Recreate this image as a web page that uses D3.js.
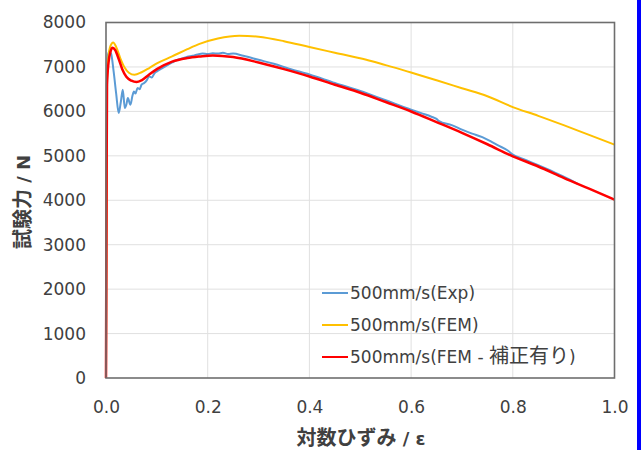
<!DOCTYPE html>
<html><head><meta charset="utf-8">
<script src="https://cdn.jsdelivr.net/npm/d3@7"></script>
<style>
body{margin:0;background:#fff;}
svg{display:block;}
text{font-family:"DejaVu Sans","Noto Sans CJK JP",sans-serif;fill:#404040;}
.cjk{font-family:"Noto Sans CJK JP",sans-serif;}
</style></head>
<body>
<svg id="c" width="641" height="450"></svg>
<script>
const xTicks = [0, 0.2, 0.4, 0.6, 0.8, 1.0];
const yTicks = [0, 1000, 2000, 3000, 4000, 5000, 6000, 7000, 8000];
const seriesNames = [["500mm/s(Exp)"], ["500mm/s(FEM)"], ["500mm/s(FEM - ", "補正有り", ")"]];
const seriesColors = ["#5b9bd5", "#ffc000", "#ff0000"];
const xTitle = ["対数ひずみ", " / ε"];
const yTitle = ["試験力", " / N"];

const strainExp = [0,0.001,0.002,0.003,0.006,0.01,0.015,0.02,0.025,0.029,0.033,0.037,0.04,0.043,0.048,0.052,0.055,0.058,0.062,0.066,0.07,0.075,0.08,0.085,0.09,0.095,0.1,0.11,0.12,0.13,0.14,0.15,0.16,0.17,0.18,0.19,0.2,0.21,0.22,0.23,0.24,0.25,0.27,0.3,0.33,0.36,0.4,0.45,0.5,0.55,0.6,0.62,0.64,0.65,0.655,0.68,0.7,0.72,0.74,0.756,0.77,0.79,0.8,0.82,0.85,0.88,0.9,0.927];
const forceExp = [0,3000,6500,7200,7350,7300,6900,6400,5962,6200,6486,6074,6150,6300,6149,6350,6448,6400,6525,6500,6600,6637,6700,6786,6760,6850,6900,6970,7034,7100,7160,7190,7230,7250,7280,7300,7290,7310,7300,7320,7290,7300,7250,7160,7070,6960,6830,6640,6460,6250,6040,5960,5880,5830,5780,5690,5590,5500,5420,5330,5240,5120,5030,4930,4790,4640,4530,4375];

const strainFem = [0,0.001,0.002,0.005,0.009,0.014,0.02,0.028,0.036,0.045,0.056,0.07,0.085,0.1,0.13,0.16,0.184,0.22,0.262,0.3,0.35,0.4,0.45,0.512,0.55,0.6,0.65,0.7,0.75,0.8,0.85,0.9,0.95,1.0];
const forceFem = [0,4000,6700,7250,7480,7552,7450,7200,7000,6870,6824,6880,6975,7080,7237,7400,7520,7640,7703,7680,7580,7448,7320,7162,7040,6876,6700,6520,6340,6097,5900,5690,5470,5252];

const strainFemCorr = [0,0.001,0.002,0.005,0.009,0.013,0.018,0.025,0.032,0.04,0.05,0.06,0.07,0.085,0.1,0.13,0.16,0.184,0.21,0.25,0.3,0.35,0.4,0.45,0.5,0.55,0.6,0.65,0.7,0.75,0.8,0.85,0.9,0.95,1.0];
const forceFemCorr = [0,4000,6600,7100,7350,7430,7380,7180,6950,6780,6690,6660,6700,6830,6950,7120,7200,7235,7260,7223,7100,6950,6786,6600,6420,6210,5998,5760,5518,5260,4989,4760,4504,4260,4016];

const isCJK = s => /[\u3040-\u30ff\u4e00-\u9fff]/.test(s);

const svg = d3.select("#c");
const L = 106, R = 614.5, T = 22.5, B = 378;
const x = d3.scaleLinear().domain([0, 1]).range([L, R]);
const y = d3.scaleLinear().domain([0, 8000]).range([B, T]);

// blue edge bar
svg.append("rect").attr("x", 637).attr("y", 0).attr("width", 4).attr("height", 450).attr("fill", "#0000ff");

// grid
svg.append("g").selectAll("line").data(yTicks.slice(1)).join("line")
  .attr("x1", L).attr("x2", R).attr("y1", d => y(d)).attr("y2", d => y(d))
  .attr("stroke", "#e0e0e0").attr("stroke-width", 1);
svg.append("g").selectAll("line").data(xTicks.slice(1)).join("line")
  .attr("y1", T).attr("y2", B).attr("x1", d => x(d)).attr("x2", d => x(d))
  .attr("stroke", "#e0e0e0").attr("stroke-width", 1);

// axes labels
const yAxis = d3.axisLeft(y).tickValues(yTicks).tickSize(0).tickPadding(20).tickFormat(d3.format("d"));
const gy = svg.append("g").attr("transform", `translate(${L},0)`).call(yAxis);
gy.select(".domain").remove();
gy.selectAll("text").attr("font-size", 17).attr("fill", "#404040").attr("font-family", null);

const xAxis = d3.axisBottom(x).tickValues(xTicks).tickSize(0).tickPadding(23).tickFormat(d3.format(".1f"));
const gx = svg.append("g").attr("transform", `translate(0,${B})`).call(xAxis);
gx.select(".domain").remove();
gx.selectAll("text").attr("font-size", 17).attr("fill", "#404040").attr("font-family", null);

// series
const line = d3.line().x(d => x(d[0])).y(d => y(d[1])).curve(d3.curveMonotoneX);
const series = [
  d3.zip(strainExp, forceExp),
  d3.zip(strainFem, forceFem),
  d3.zip(strainFemCorr, forceFemCorr)
];
const widths = [2, 2, 2.5];
series.forEach((s, i) => {
  svg.append("path").datum(s).attr("d", line).attr("fill", "none")
    .attr("stroke", seriesColors[i]).attr("stroke-width", widths[i]).attr("stroke-linejoin", "round");
});

// frame
svg.append("rect").attr("x", L).attr("y", T).attr("width", R - L).attr("height", B - T)
  .attr("fill", "none").attr("stroke", "#6e6e6e").attr("stroke-width", 1.6);

function addParts(t, parts, latinSize, cjkSize) {
  parts.forEach(p => {
    const ts = t.append("tspan").text(p);
    if (isCJK(p)) ts.attr("class", "cjk").attr("font-size", cjkSize);
    else ts.attr("font-size", latinSize);
  });
}

// legend
const lg = svg.append("g");
seriesNames.forEach((n, i) => {
  const yy = 293 + i * 32;
  lg.append("line").attr("x1", 322).attr("x2", 348).attr("y1", yy).attr("y2", yy)
    .attr("stroke", seriesColors[i]).attr("stroke-width", 2);
  const t = lg.append("text").attr("x", 350).attr("y", yy + 6).attr("fill", "#404040");
  addParts(t, n, 17, 20);
});

// axis titles
const tx = svg.append("text").attr("x", 361).attr("y", 445).attr("text-anchor", "middle")
  .attr("font-weight", "bold").attr("fill", "#262626");
addParts(tx, xTitle, 18, 20);
const tyt = svg.append("text").attr("transform", "translate(30,202) rotate(-90)")
  .attr("text-anchor", "middle").attr("font-weight", "bold").attr("fill", "#262626");
addParts(tyt, yTitle, 18, 20);
</script>
</body></html>
